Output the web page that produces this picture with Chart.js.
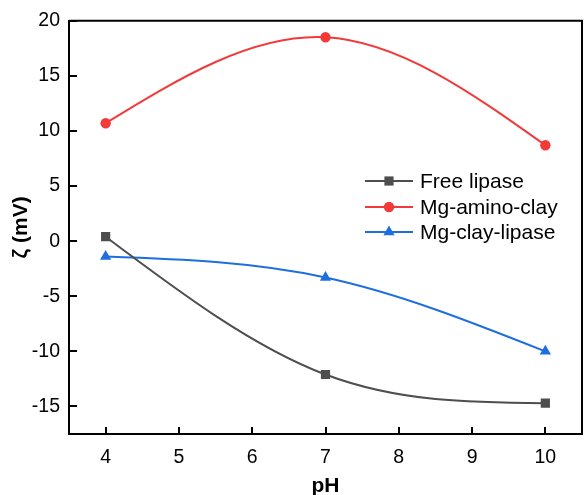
<!DOCTYPE html>
<html>
<head>
<meta charset="utf-8">
<script src="https://cdn.jsdelivr.net/npm/chart.js@4.4.0/dist/chart.umd.min.js"></script>
<style>
html, body { margin: 0; padding: 0; background: #fff; }
</style>
</head>
<body>
<canvas id="zetaChart" width="585" height="495"></canvas>
<script>
// Messwerte (pH gegen Zeta-Potential)
const phWerte = [4, 7, 10];
const freeLipase = [0.4, -12.1, -14.7];
const mgAminoClay = [10.7, 18.5, 8.7];
const mgClayLipase = [-1.4, -3.3, -10.0];

const xTicks = [4, 5, 6, 7, 8, 9, 10];
const yTicks = [-15, -10, -5, 0, 5, 10, 15, 20];

const serienNamen = ["Free lipase", "Mg-amino-clay", "Mg-clay-lipase"];
const serienFarben = ["rgb(78,78,78)", "rgb(242,58,58)", "rgb(30,110,225)"];
const serienMarker = ["rect", "circle", "triangle"];
const markerRadius = [6.5, 5.2, 6.5];

const schrift = "'Liberation Sans', Arial, sans-serif";

function toPoints(ys) {
    return phWerte.map((x, i) => ({x: x, y: ys[i]}));
}

function makeDataset(i, ys) {
    return {
        label: serienNamen[i],
        data: toPoints(ys),
        borderColor: serienFarben[i],
        backgroundColor: serienFarben[i],
        pointBackgroundColor: serienFarben[i],
        pointBorderColor: serienFarben[i],
        pointStyle: serienMarker[i],
        pointRadius: markerRadius[i],
        pointBorderWidth: 0,
        borderWidth: 2,
        tension: 0.4,
        fill: false
    };
}

/*
Natürlicher kubischer Spline: Steigungen an den Stützstellen (Pixelraum).
 */
function splineSteigungen(xs, ys) {
    const n = xs.length;
    const h = [];
    for (let i = 0; i < n - 1; i++) h.push(xs[i + 1] - xs[i]);
    const M = new Array(n).fill(0);
    if (n > 2) {
        // Tridiagonales System für die inneren zweiten Ableitungen
        const a = [], b = [], c = [], d = [];
        for (let i = 1; i < n - 1; i++) {
            a.push(h[i - 1] / 6);
            b.push((h[i - 1] + h[i]) / 3);
            c.push(h[i] / 6);
            d.push((ys[i + 1] - ys[i]) / h[i] - (ys[i] - ys[i - 1]) / h[i - 1]);
        }
        const m = b.length;
        for (let i = 1; i < m; i++) {
            const w = a[i] / b[i - 1];
            b[i] -= w * c[i - 1];
            d[i] -= w * d[i - 1];
        }
        const loes = new Array(m);
        loes[m - 1] = d[m - 1] / b[m - 1];
        for (let i = m - 2; i >= 0; i--) loes[i] = (d[i] - c[i] * loes[i + 1]) / b[i];
        for (let i = 0; i < m; i++) M[i + 1] = loes[i];
    }
    const s = [];
    for (let i = 0; i < n - 1; i++) {
        s.push((ys[i + 1] - ys[i]) / h[i] - h[i] * (2 * M[i] + M[i + 1]) / 6);
    }
    s.push((ys[n - 1] - ys[n - 2]) / h[n - 2] + h[n - 2] * (M[n - 2] + 2 * M[n - 1]) / 6);
    return s;
}

/*
Setzt die Bezier-Kontrollpunkte der Linien wie bei einem Spline (Origin-Stil).
 */
const splinePlugin = {
    id: "spline",
    beforeDatasetsDraw(chart) {
        chart.data.datasets.forEach((ds, di) => {
            const meta = chart.getDatasetMeta(di);
            const pts = meta.data;
            const xs = pts.map(p => p.x);
            const ys = pts.map(p => p.y);
            const m = splineSteigungen(xs, ys);
            pts.forEach((p, i) => {
                const hv = i > 0 ? (xs[i] - xs[i - 1]) / 3 : 0;
                const hn = i < pts.length - 1 ? (xs[i + 1] - xs[i]) / 3 : 0;
                p.cp1x = xs[i] - hv;
                p.cp1y = ys[i] - m[i] * hv;
                p.cp2x = xs[i] + hn;
                p.cp2y = ys[i] + m[i] * hn;
            });
            meta.dataset._pointsUpdated = true;
        });
    }
};

/*
Rahmen oben/rechts und nach innen zeigende Ticks.
 */
const rahmenPlugin = {
    id: "rahmen",
    afterDraw(chart) {
        const ctx = chart.ctx;
        const a = chart.chartArea;
        ctx.save();
        ctx.strokeStyle = "#000";
        ctx.lineWidth = 2;
        ctx.beginPath();
        ctx.moveTo(a.left, a.top);
        ctx.lineTo(a.right, a.top);
        ctx.lineTo(a.right, a.bottom);
        ctx.stroke();
        const xs = chart.scales.x;
        const ys = chart.scales.y;
        ctx.beginPath();
        xs.ticks.forEach((t, i) => {
            const px = Math.round(xs.getPixelForTick(i));
            ctx.moveTo(px, a.bottom);
            ctx.lineTo(px, a.bottom - 7);
        });
        ys.ticks.forEach((t, i) => {
            const py = Math.round(ys.getPixelForTick(i));
            ctx.moveTo(a.left, py);
            ctx.lineTo(a.left + 8, py);
        });
        ctx.stroke();
        ctx.restore();
    }
};

/*
Legende innerhalb der Zeichenfläche.
 */
const legendePlugin = {
    id: "legendeInnen",
    afterDraw(chart) {
        const ctx = chart.ctx;
        const xStart = 365, xEnde = 413, textX = 420;
        const zeilen = [181, 207, 232];
        ctx.save();
        chart.data.datasets.forEach((ds, i) => {
            const y = zeilen[i];
            ctx.strokeStyle = ds.borderColor;
            ctx.lineWidth = 2;
            ctx.beginPath();
            ctx.moveTo(xStart, y);
            ctx.lineTo(xEnde, y);
            ctx.stroke();
            ctx.fillStyle = ds.pointBackgroundColor;
            Chart.helpers.drawPoint(ctx, {
                pointStyle: ds.pointStyle,
                radius: ds.pointRadius,
                rotation: 0,
                borderWidth: 0
            }, (xStart + xEnde) / 2, y);
            ctx.fillStyle = "#000";
            ctx.font = "21px " + schrift;
            ctx.textBaseline = "middle";
            ctx.textAlign = "left";
            ctx.fillText(ds.label, textX, y + 1);
        });
        ctx.restore();
    }
};

const ctx = document.getElementById("zetaChart");
const zetaChart = new Chart(ctx, {
    type: "line",
    data: {
        datasets: [
            makeDataset(0, freeLipase),
            makeDataset(1, mgAminoClay),
            makeDataset(2, mgClayLipase)
        ]
    },
    options: {
        responsive: false,
        animation: false,
        layout: {
            autoPadding: false,
            padding: {top: 20, right: 3, left: 0, bottom: 0}
        },
        plugins: {
            legend: {display: false},
            tooltip: {enabled: false}
        },
        scales: {
            x: {
                type: "linear",
                min: 3.5,
                max: 10.5,
                afterBuildTicks: (scale) => {
                    scale.ticks = xTicks.map(v => ({value: v}));
                },
                afterFit: (scale) => {
                    scale.height = 61;
                    scale.paddingLeft = 0;
                    scale.paddingRight = 0;
                },
                grid: {display: false, drawTicks: false},
                border: {display: true, color: "#000", width: 2},
                ticks: {
                    color: "#000",
                    padding: 12,
                    font: {family: schrift, size: 19.5}
                },
                title: {
                    display: true,
                    text: "pH",
                    color: "#000",
                    font: {family: schrift, size: 21, weight: "bold", lineHeight: 1},
                    padding: {top: 0, bottom: -2}
                }
            },
            y: {
                type: "linear",
                min: -17.5,
                max: 20,
                afterBuildTicks: (scale) => {
                    scale.ticks = yTicks.map(v => ({value: v}));
                },
                afterFit: (scale) => {
                    scale.width = 69;
                },
                grid: {display: false, drawTicks: false},
                border: {display: true, color: "#000", width: 2},
                ticks: {
                    color: "#000",
                    padding: 9,
                    font: {family: schrift, size: 19.5}
                },
                title: {
                    display: true,
                    text: "ζ (mV)",
                    color: "#000",
                    font: {family: schrift, size: 21, weight: "bold", lineHeight: 1},
                    padding: {top: 11, bottom: 0}
                }
            }
        }
    },
    plugins: [splinePlugin, rahmenPlugin, legendePlugin]
});
</script>
</body>
</html>
